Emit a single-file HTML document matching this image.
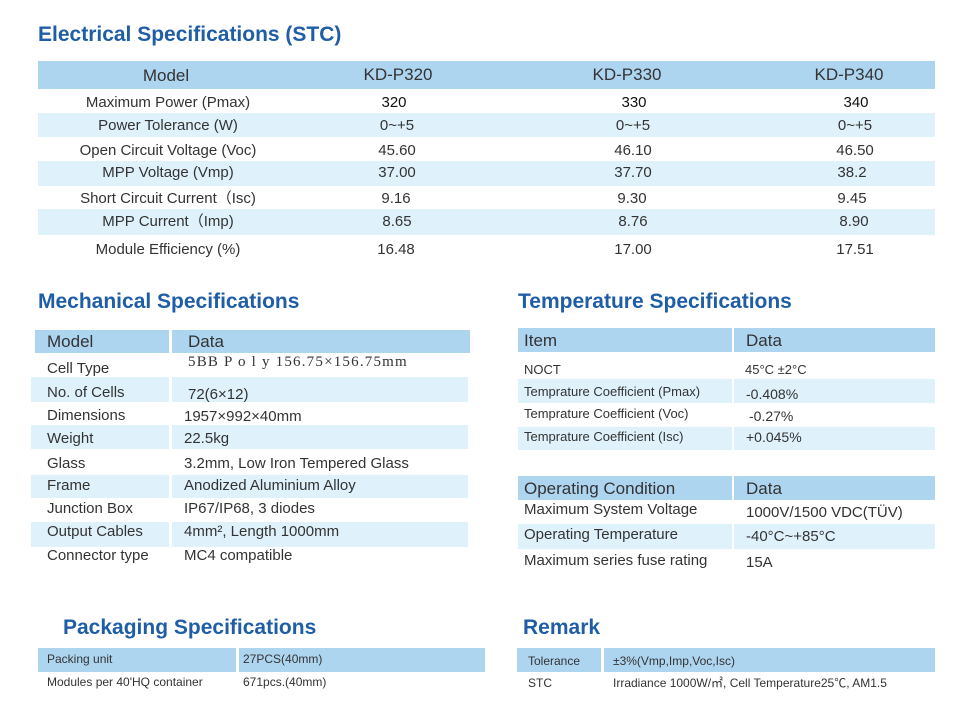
<!DOCTYPE html>
<html><head><meta charset="utf-8"><style>
*{margin:0;padding:0;box-sizing:border-box}
body{width:975px;height:715px;background:#fff;position:relative;overflow:hidden;font-family:"Liberation Sans","Noto Sans CJK SC",sans-serif;color:#333}
.t{position:absolute;font-weight:bold;color:#1f5ea6;font-size:21px;white-space:nowrap}
.h{position:absolute;background:#aed5f0}
.l{position:absolute;background:#dff1fb}
.x{position:absolute;white-space:nowrap;line-height:1}
.c{transform:translateX(-50%)}
</style></head><body>
<div class="t" style="left:38px;top:23px">Electrical Specifications (STC)</div>
<div class="h" style="left:38px;top:61px;width:897px;height:28px"></div>
<div class="l" style="left:38px;top:113px;width:897px;height:24px"></div>
<div class="l" style="left:38px;top:161px;width:897px;height:25px"></div>
<div class="l" style="left:38px;top:209px;width:897px;height:26px"></div>
<div class="x c" style="left:166px;top:67px;font-size:17px">Model</div>
<div class="x c" style="left:398px;top:66px;font-size:17px">KD-P320</div>
<div class="x c" style="left:627px;top:66px;font-size:17px">KD-P330</div>
<div class="x c" style="left:849px;top:66px;font-size:17px">KD-P340</div>
<div style="font-size:15px">
<div class="x c" style="left:168px;top:95px">Maximum Power (Pmax)</div>
<div class="x c" style="left:168px;top:118px">Power Tolerance (W)</div>
<div class="x c" style="left:168px;top:143px">Open Circuit Voltage (Voc)</div>
<div class="x c" style="left:168px;top:165px">MPP Voltage (Vmp)</div>
<div class="x c" style="left:168px;top:191px">Short Circuit Current（Isc)</div>
<div class="x c" style="left:168px;top:214px">MPP Current（Imp)</div>
<div class="x c" style="left:168px;top:242px">Module Efficiency (%)</div>
<div class="x c" style="left:394px;top:95px;color:#111">320</div>
<div class="x c" style="left:397px;top:118px">0~+5</div>
<div class="x c" style="left:397px;top:143px">45.60</div>
<div class="x c" style="left:397px;top:165px">37.00</div>
<div class="x c" style="left:396px;top:191px">9.16</div>
<div class="x c" style="left:397px;top:214px">8.65</div>
<div class="x c" style="left:396px;top:242px">16.48</div>
<div class="x c" style="left:634px;top:95px;color:#111">330</div>
<div class="x c" style="left:633px;top:118px">0~+5</div>
<div class="x c" style="left:633px;top:143px">46.10</div>
<div class="x c" style="left:633px;top:165px">37.70</div>
<div class="x c" style="left:632px;top:191px">9.30</div>
<div class="x c" style="left:633px;top:214px">8.76</div>
<div class="x c" style="left:633px;top:242px">17.00</div>
<div class="x c" style="left:856px;top:95px;color:#111">340</div>
<div class="x c" style="left:855px;top:118px">0~+5</div>
<div class="x c" style="left:855px;top:143px">46.50</div>
<div class="x c" style="left:852px;top:165px">38.2</div>
<div class="x c" style="left:852px;top:191px">9.45</div>
<div class="x c" style="left:854px;top:214px">8.90</div>
<div class="x c" style="left:855px;top:242px">17.51</div>
</div>

<div class="t" style="left:38px;top:290px">Mechanical Specifications</div>
<div class="h" style="left:35px;top:330px;width:134px;height:23px"></div>
<div class="h" style="left:172px;top:330px;width:298px;height:23px"></div>
<div class="l" style="left:31px;top:377px;width:138px;height:25px"></div><div class="l" style="left:172px;top:377px;width:296px;height:25px"></div>
<div class="l" style="left:31px;top:425px;width:138px;height:24px"></div><div class="l" style="left:172px;top:425px;width:296px;height:24px"></div>
<div class="l" style="left:31px;top:475px;width:138px;height:23px"></div><div class="l" style="left:172px;top:475px;width:296px;height:23px"></div>
<div class="l" style="left:31px;top:522px;width:138px;height:25px"></div><div class="l" style="left:172px;top:522px;width:296px;height:25px"></div>
<div class="x" style="left:47px;top:333px;font-size:17px">Model</div>
<div class="x" style="left:188px;top:333px;font-size:17px">Data</div>
<div style="font-size:15px">
<div class="x" style="left:47px;top:361px">Cell Type</div>
<div class="x" style="left:47px;top:385px">No. of Cells</div>
<div class="x" style="left:47px;top:408px">Dimensions</div>
<div class="x" style="left:47px;top:431px">Weight</div>
<div class="x" style="left:47px;top:456px">Glass</div>
<div class="x" style="left:47px;top:478px">Frame</div>
<div class="x" style="left:47px;top:501px">Junction Box</div>
<div class="x" style="left:47px;top:524px">Output Cables</div>
<div class="x" style="left:47px;top:548px">Connector type</div>
<div class="x" style="left:188px;top:355px;font-family:'Liberation Serif',serif;font-size:15px;letter-spacing:1.2px">5BB P o l y 156.75×156.75mm</div>
<div class="x" style="left:188px;top:387px">72(6×12)</div>
<div class="x" style="left:184px;top:409px">1957×992×40mm</div>
<div class="x" style="left:184px;top:431px">22.5kg</div>
<div class="x" style="left:184px;top:456px">3.2mm, Low Iron Tempered Glass</div>
<div class="x" style="left:184px;top:478px">Anodized Aluminium Alloy</div>
<div class="x" style="left:184px;top:501px">IP67/IP68, 3 diodes</div>
<div class="x" style="left:184px;top:524px">4mm², Length 1000mm</div>
<div class="x" style="left:184px;top:548px">MC4 compatible</div>
</div>

<div class="t" style="left:518px;top:290px">Temperature Specifications</div>
<div class="h" style="left:518px;top:328px;width:214px;height:24px"></div>
<div class="h" style="left:734px;top:328px;width:201px;height:24px"></div>
<div class="l" style="left:518px;top:379px;width:214px;height:24px"></div><div class="l" style="left:734px;top:379px;width:201px;height:24px"></div>
<div class="l" style="left:518px;top:427px;width:214px;height:23px"></div><div class="l" style="left:734px;top:427px;width:201px;height:23px"></div>
<div class="x" style="left:524px;top:332px;font-size:17px">Item</div>
<div class="x" style="left:746px;top:332px;font-size:17px">Data</div>
<div style="font-size:13px">
<div class="x" style="left:524px;top:363px">NOCT</div>
<div class="x" style="left:524px;top:385px">Temprature Coefficient (Pmax)</div>
<div class="x" style="left:524px;top:407px">Temprature Coefficient (Voc)</div>
<div class="x" style="left:524px;top:430px">Temprature Coefficient (Isc)</div>
<div class="x" style="left:745px;top:363px">45°C ±2°C</div>
<div class="x" style="left:746px;top:387px;font-size:14px">-0.408%</div>
<div class="x" style="left:749px;top:409px;font-size:14px">-0.27%</div>
<div class="x" style="left:746px;top:430px;font-size:14px">+0.045%</div>
</div>
<div class="h" style="left:518px;top:476px;width:214px;height:24px"></div>
<div class="h" style="left:734px;top:476px;width:201px;height:24px"></div>
<div class="l" style="left:518px;top:524px;width:214px;height:25px"></div><div class="l" style="left:734px;top:524px;width:201px;height:25px"></div>
<div class="x" style="left:524px;top:480px;font-size:17px">Operating Condition</div>
<div class="x" style="left:746px;top:480px;font-size:17px">Data</div>
<div style="font-size:15px">
<div class="x" style="left:524px;top:502px">Maximum System Voltage</div>
<div class="x" style="left:524px;top:527px">Operating Temperature</div>
<div class="x" style="left:524px;top:553px">Maximum series fuse rating</div>
<div class="x" style="left:746px;top:505px">1000V/1500 VDC(TÜV)</div>
<div class="x" style="left:746px;top:529px">-40°C~+85°C</div>
<div class="x" style="left:746px;top:555px">15A</div>
</div>

<div class="t" style="left:63px;top:616px">Packaging Specifications</div>
<div class="h" style="left:38px;top:648px;width:198px;height:24px"></div>
<div class="h" style="left:239px;top:648px;width:246px;height:24px"></div>
<div style="font-size:12px">
<div class="x" style="left:47px;top:653px">Packing unit</div>
<div class="x" style="left:243px;top:653px">27PCS(40mm)</div>
<div class="x" style="left:47px;top:676px">Modules per 40'HQ container</div>
<div class="x" style="left:243px;top:676px">671pcs.(40mm)</div>
</div>
<div class="t" style="left:523px;top:616px">Remark</div>
<div class="h" style="left:517px;top:648px;width:84px;height:24px"></div>
<div class="h" style="left:604px;top:648px;width:331px;height:24px"></div>
<div style="font-size:12px">
<div class="x" style="left:528px;top:655px">Tolerance</div>
<div class="x" style="left:613px;top:655px">±3%(Vmp,Imp,Voc,Isc)</div>
<div class="x" style="left:528px;top:677px">STC</div>
<div class="x" style="left:613px;top:677px">Irradiance 1000W/㎡, Cell Temperature25℃, AM1.5</div>
</div>
</body></html>
